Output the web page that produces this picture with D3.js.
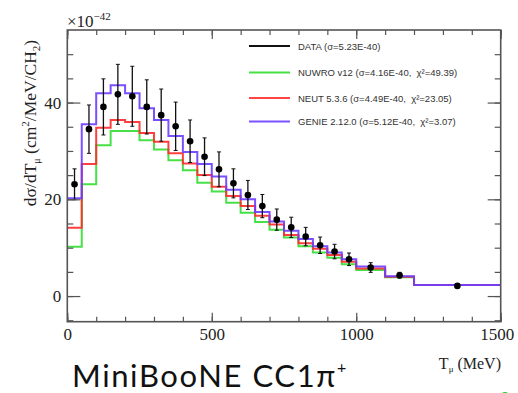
<!DOCTYPE html>
<html>
<head>
<meta charset="utf-8">
<script src="https://cdn.jsdelivr.net/npm/d3@7"></script>
<style>
	html, body { margin:0; padding:0; background:#fff; }
	svg { display:block; }
	.ax path { display:none; }
	.ax line { stroke:#555; stroke-width:1.2; }
	.ax text { font-family:"Liberation Serif", serif; font-size:17px; fill:#222; }
	.lgt { white-space:pre; }
</style>
</head>
<body>
<svg id="chart" width="518" height="393"></svg>
<script>
// bin edges of T_mu (MeV)
var	binEdges	= [0,50,100,150,200,250,300,350,400,450,500,550,600,650,700,750,800,850,900,950,1000,1100,1200,1500];
// data (x1e-42)
var	dataY		= [23.1,34.5,39.1,41.7,41.3,39.1,37.4,35.1,32.0,28.8,26.2,23.3,20.9,18.6,15.8,14.2,12.3,10.5,9.2,7.6,5.9,4.3,2.1];
var	dataErr		= [3.2,5.0,5.8,6.2,6.2,5.6,5.4,5.0,4.4,3.9,3.6,3.0,3.0,2.4,2.2,2.1,1.9,1.7,1.5,1.3,1.0,0.6,0.4];
// generators
var	nuwro		= [10.2,23.1,31.2,34.1,34.1,32.2,30.3,28.1,26.0,23.4,21.6,19.3,17.2,15.3,13.7,12.1,10.3,9.0,7.9,6.6,5.4,3.9,2.3];
var	neut		= [14.1,27.3,34.8,36.4,36.0,33.7,31.9,29.5,27.4,25.0,22.6,20.7,18.6,16.6,14.8,12.6,10.9,9.8,8.5,7.1,5.7,4.0,2.3];
var	genie		= [20.2,35.5,41.9,43.6,41.9,38.8,36.4,33.1,29.8,27.3,24.7,22.0,20.0,17.4,15.4,13.5,11.8,10.3,9.0,7.6,6.1,4.1,2.3];
var	legendLabels	= ["DATA (\u03c3=5.23E-40)","NUWRO v12 (\u03c3=4.16E-40,  \u03c7\u00b2=49.39)","NEUT 5.3.6 (\u03c3=4.49E-40,  \u03c7\u00b2=23.05)","GENIE 2.12.0 (\u03c3=5.12E-40,  \u03c7\u00b2=3.07)"];
var	legendColors	= ["#111","#44e044","#ff4444","#7a55ff"];
var	xTicks		= [0,500,1000,1500];
var	yTicks		= [0,20,40];

var	svg	= d3.select("#chart"),
	L = 67.3, R = 500.7, T = 30, B = 321.7,
	x	= d3.scaleLinear().domain([0,1500]).range([L,R]),
	y	= d3.scaleLinear().domain([-5.3,55]).range([B,T]);

// histograms
function stepLine(vals) {
	var pts = vals.map(function(v,i){ return [binEdges[i], v]; });
	pts.push([binEdges[binEdges.length-1], vals[vals.length-1]]);
	return d3.line().x(function(d){return x(d[0]);}).y(function(d){return y(d[1]);}).curve(d3.curveStepAfter)(pts);
}
var	hists	= [{v:nuwro,c:"#33dd33"},{v:neut,c:"#ff2a2a"},{v:genie,c:"#6a3cff"}];
svg.append("g").selectAll("path").data(hists).enter().append("path")
	.attr("d", function(d){ return stepLine(d.v); })
	.attr("fill","none").attr("stroke", function(d){return d.c;}).attr("stroke-width",2).attr("stroke-opacity",0.9);

// data points
var	pts	= dataY.map(function(v,i){ return {x:(binEdges[i]+binEdges[i+1])/2, y:v, e:dataErr[i]}; }),
	gPts	= svg.append("g").selectAll("g").data(pts).enter().append("g");
gPts.append("line").attr("x1",function(d){return x(d.x);}).attr("x2",function(d){return x(d.x);})
	.attr("y1",function(d){return y(d.y-d.e);}).attr("y2",function(d){return y(d.y+d.e);})
	.attr("stroke","#111").attr("stroke-width",1.3);
gPts.append("path").attr("d",function(d){
		var cx=x(d.x), a=y(d.y+d.e), b=y(d.y-d.e);
		return "M"+(cx-2)+","+a+"H"+(cx+2)+"M"+(cx-2)+","+b+"H"+(cx+2);
	}).attr("stroke","#111").attr("stroke-width",1);
gPts.append("circle").attr("cx",function(d){return x(d.x);}).attr("cy",function(d){return y(d.y);})
	.attr("r",3.3).attr("fill","#000");

// axes (ROOT style, ticks inside)
function ax(gen, tr) { return svg.append("g").attr("class","ax").attr("transform",tr).call(gen); }
var	xMinor	= d3.range(0,1501,100),
	yMinor	= d3.range(-5,55,5);
ax(d3.axisBottom(x).tickValues(xMinor).tickSize(-5).tickFormat(""), "translate(0,"+B+")");
var	xMaj	= ax(d3.axisBottom(x).tickValues(xTicks).tickSize(-9).tickPadding(6).tickFormat(d3.format("d")), "translate(0,"+B+")");
xMaj.selectAll("text").filter(function(d){return d==1500;}).attr("dx", -4);
ax(d3.axisTop(x).tickValues(xMinor).tickSize(-5).tickFormat(""), "translate(0,"+T+")");
ax(d3.axisTop(x).tickValues(xTicks).tickSize(-9).tickFormat(""), "translate(0,"+T+")");
ax(d3.axisLeft(y).tickValues(yMinor).tickSize(-6).tickFormat(""), "translate("+L+",0)");
ax(d3.axisLeft(y).tickValues(yTicks).tickSize(-13).tickPadding(6).tickFormat(d3.format("d")), "translate("+L+",0)");
ax(d3.axisRight(y).tickValues(yMinor).tickSize(-6).tickFormat(""), "translate("+R+",0)");
ax(d3.axisRight(y).tickValues(yTicks).tickSize(-13).tickFormat(""), "translate("+R+",0)");

svg.append("rect").attr("x",L).attr("y",T).attr("width",R-L).attr("height",B-T)
	.attr("fill","none").attr("stroke","#555").attr("stroke-width",1.6);

// exponent
var	ex	= svg.append("text").attr("x",67).attr("y",27).attr("font-family","Liberation Serif").attr("font-size",17).attr("fill","#222");
ex.append("tspan").text("\u00d710");
ex.append("tspan").attr("dy",-7).attr("font-size",11).text("\u221242");

// axis titles
var	yt	= svg.append("text").attr("transform","translate(36,123) rotate(-90)").attr("text-anchor","middle")
		.attr("font-family","Liberation Serif").attr("font-size",17.5).attr("fill","#222");
yt.append("tspan").text("d\u03c3/dT");
yt.append("tspan").attr("font-size",10).attr("dy",4).text("\u03bc");
yt.append("tspan").attr("dy",-4).text(" (cm");
yt.append("tspan").attr("font-size",11).attr("dy",-7).text("2");
yt.append("tspan").attr("dy",7).text("/MeV/CH");
yt.append("tspan").attr("font-size",11).attr("dy",4).text("2");
yt.append("tspan").attr("dy",-4).text(")");

var	xt	= svg.append("text").attr("x",501).attr("y",369).attr("text-anchor","end")
		.attr("font-family","Liberation Serif").attr("font-size",16).attr("fill","#222");
xt.append("tspan").text("T");
xt.append("tspan").attr("font-size",9).attr("dy",3).text("\u03bc");
xt.append("tspan").attr("dy",-3).text(" (MeV)");

// legend
var	lg	= svg.append("g").selectAll("g").data(legendLabels).enter().append("g")
		.attr("transform", function(d,i){ return "translate(0,"+[46,72.5,98,121.5][i]+")"; });
lg.append("line").attr("x1",249).attr("x2",290).attr("stroke",function(d,i){return legendColors[i];}).attr("stroke-width",1.8);
lg.append("text").attr("class","lgt").attr("x",298).attr("y",3.5).attr("font-family","Liberation Sans").attr("font-size",9.5).attr("fill","#333")
	.text(function(d){return d;});

// caption
var	cap	= svg.append("text").attr("x",72).attr("y",387).attr("font-family","Lato").attr("font-size",31)
		.attr("letter-spacing",1.6).attr("fill","#111");
cap.append("tspan").text("MiniBooNE CC1\u03c0");
cap.append("tspan").attr("font-size",16).attr("dy",-14).text("+");

svg.append("circle").attr("cx",505).attr("cy",397).attr("r",5).attr("fill","#2c2");
</script>
</body>
</html>
